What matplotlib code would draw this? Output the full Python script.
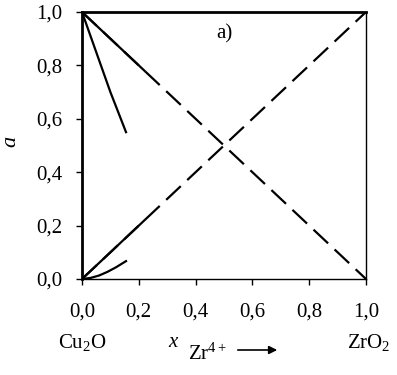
import matplotlib
matplotlib.use("Agg")
import matplotlib.pyplot as plt

plt.rcParams['font.family'] = ['Liberation Serif', 'DejaVu Serif']
plt.rcParams['mathtext.fontset'] = 'custom'
plt.rcParams['mathtext.rm'] = 'Liberation Serif'
plt.rcParams['mathtext.it'] = 'Liberation Serif:italic'

# data
x_fall = [0.0, 0.05, 0.10, 0.155]
a_fall = [1.0, 0.85, 0.70, 0.55]
x_rise = [0.0, 0.03, 0.06, 0.09, 0.12, 0.155]
a_rise = [0.0, 0.004, 0.013, 0.027, 0.044, 0.067]
x_diag_solid = [0.0, 0.22]
a_diag_up_solid = [0.0, 0.22]
a_diag_down_solid = [1.0, 0.78]
x_ideal = [0.0, 1.0]
a_up = [0.0, 1.0]
a_down = [1.0, 0.0]
xticks = [0.0, 0.2, 0.4, 0.6, 0.8, 1.0]
tick_labels = ['0,0', '0,2', '0,4', '0,6', '0,8', '1,0']

fig = plt.figure(figsize=(3.97, 3.75), dpi=100)
ax = fig.add_axes([82/397, 1-279/375, 284/397, 267/375])

lw = 1.6
ax.plot(x_ideal, a_up, color='black', lw=lw, dashes=(9, 4))
ax.plot(x_ideal, a_down, color='black', lw=lw, dashes=(9, 4))
ax.plot(x_diag_solid, a_diag_up_solid, color='black', lw=lw)
ax.plot(x_diag_solid, a_diag_down_solid, color='black', lw=lw)
ax.plot(x_fall, a_fall, color='black', lw=lw)
ax.plot(x_rise, a_rise, color='black', lw=lw)

ax.set_xlim(0, 1)
ax.set_ylim(0, 1)
ax.set_xticks(xticks)
ax.set_xticklabels(tick_labels)
ax.set_yticks(xticks)
ax.set_yticklabels(tick_labels)
ax.tick_params(direction='out', length=4, width=1, labelsize=15, colors='black')
ax.tick_params(axis='y', pad=10)
ax.tick_params(axis='x', pad=13)

for side in ['top', 'left']:
    ax.spines[side].set_linewidth(2)
for side in ['right', 'bottom']:
    ax.spines[side].set_linewidth(1)

ax.text(0.5, 0.92, 'a)', fontsize=15, ha='center', va='center')
fig.text(12/397, 1-142/375, '$a$', fontsize=16, rotation=90, ha='center', va='center')

fig.text(82/397, 1-348/375, 'Cu$_2$O', fontsize=15, ha='center', va='baseline')
fig.text(369/397, 1-348/375, 'ZrO$_2$', fontsize=15, ha='center', va='baseline')
fig.text(168/397, 1-347/375, r'$x$', fontsize=15, ha='left', va='baseline')
fig.text(188/397, 1-360/375, r'Zr$^{4+}$', fontsize=15, ha='left', va='baseline')
fig.patches.append(matplotlib.patches.FancyArrowPatch(
    (235/397, 1-350/375), (280/397, 1-350/375), transform=fig.transFigure,
    arrowstyle='-|>', mutation_scale=12, lw=1.2, color='black'))

fig.savefig('out.png', dpi=100)
